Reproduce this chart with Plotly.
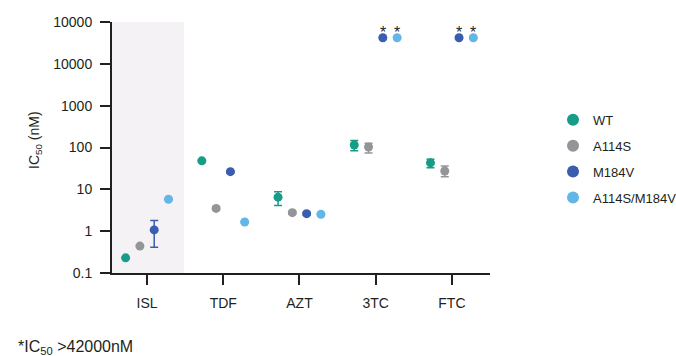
import math
import plotly.graph_objects as go

# Drugs on the x axis and the strains tested against each
drugs = ["ISL", "TDF", "AZT", "3TC", "FTC"]
strains = ["WT", "A114S", "M184V", "A114S/M184V"]
colors = ["#179c87", "#939598", "#3b5dae", "#63b6e6"]

# IC50 (nM) per strain, one value per drug
ic50 = {
    "WT":          [0.23, 48.0, 6.5, 115.0, 43.0],
    "A114S":       [0.44, 3.5, 2.77, 103.0, 27.5],
    "M184V":       [1.07, 26.5, 2.62, 42000.0, 42000.0],
    "A114S/M184V": [5.8, 1.66, 2.54, 42000.0, 42000.0],
}
# error bar ends (nM)
err_low = {
    "WT":          [0.23, 46.0, 4.1, 84.0, 33.0],
    "A114S":       [0.42, 3.2, 2.55, 74.0, 20.0],
    "M184V":       [0.41, 25.0, 2.40, 42000.0, 42000.0],
    "A114S/M184V": [5.6, 1.58, 2.50, 42000.0, 42000.0],
}
err_high = {
    "WT":          [0.23, 50.0, 8.8, 146.0, 52.5],
    "A114S":       [0.46, 3.8, 3.0, 126.0, 36.0],
    "M184V":       [1.80, 28.0, 2.85, 42000.0, 42000.0],
    "A114S/M184V": [6.0, 1.75, 2.58, 42000.0, 42000.0],
}
# values above the assay limit (IC50 > 42000 nM)
above_limit = {
    "WT":          [False] * 5,
    "A114S":       [False] * 5,
    "M184V":       [False, False, False, True, True],
    "A114S/M184V": [False, False, False, True, True],
}

y_tickvals = [0.1, 1, 10, 100, 1000, 10000, 100000]
y_ticktext = ["0.1", "1", "10", "100", "1000", "10000", "10000"]

FONT = "Liberation Sans, Arial, sans-serif"
INK = "#231f20"
SCATTER_GAP = 0.25

fig = go.Figure()
for name, col in zip(strains, colors):
    vals = ic50[name]
    plus = [h - v for h, v in zip(err_high[name], vals)]
    minus = [v - l for l, v in zip(err_low[name], vals)]
    fig.add_trace(go.Scatter(
        x=drugs, y=vals, name=name, mode="markers",
        marker=dict(color=col, size=9),
        error_y=dict(type="data", array=plus, arrayminus=minus,
                     color=col, thickness=1.5, width=4),
        offsetgroup=name, legendgroup=name,
        cliponaxis=False,
    ))

# asterisks over the values that exceed the assay limit
slot = (1 - SCATTER_GAP) / len(strains)
for k, name in enumerate(strains):
    for i, drug in enumerate(drugs):
        if above_limit[name][i]:
            fig.add_annotation(
                x=i + (k - (len(strains) - 1) / 2) * slot,
                y=math.log10(ic50[name][i]),
                xref="x", yref="y", text="*", showarrow=False,
                yanchor="middle", yshift=5,
                font=dict(family=FONT, size=16, color=INK))

# shaded band behind the ISL group
fig.add_shape(type="rect", xref="x", yref="paper",
              x0=-0.46, x1=0.486, y0=0, y1=1,
              fillcolor="#f4f2f4", line=dict(width=0), layer="below")

fig.update_layout(
    width=676, height=356,
    margin=dict(l=112, r=186, t=22, b=83, autoexpand=False),
    paper_bgcolor="white", plot_bgcolor="white",
    scattermode="group", scattergap=SCATTER_GAP,
    showlegend=True,
    legend=dict(x=1.1667, xanchor="left", y=0.67, yanchor="top",
                font=dict(family=FONT, size=13, color=INK),
                tracegroupgap=6, itemsizing="constant",
                bgcolor="rgba(0,0,0,0)"),
    font=dict(family=FONT, color=INK),
)
fig.update_xaxes(
    type="category", range=[-0.46, 4.5],
    showline=True, linewidth=2, linecolor=INK,
    ticks="outside", ticklen=10, tickwidth=2, tickcolor=INK,
    tickfont=dict(family=FONT, size=14, color=INK),
    ticklabelstandoff=6,
    showgrid=False, zeroline=False,
)
fig.update_yaxes(
    type="log", range=[-1, 5],
    tickvals=y_tickvals, ticktext=y_ticktext,
    showline=True, linewidth=2, linecolor=INK,
    ticks="outside", ticklen=10, tickwidth=2, tickcolor=INK,
    tickfont=dict(family=FONT, size=14, color=INK),
    ticklabelstandoff=5,
    showgrid=False, zeroline=False,
)

fig.add_annotation(text="IC<sub>50</sub> (nM)", textangle=-90,
                   xref="paper", yref="paper", x=-0.2037, y=0.53,
                   xanchor="center", yanchor="middle", showarrow=False,
                   font=dict(family=FONT, size=14, color=INK))
fig.add_annotation(text="*IC<sub>50</sub> >42000nM",
                   xref="paper", yref="paper", x=-0.254, y=-0.295,
                   xanchor="left", yanchor="middle", showarrow=False,
                   font=dict(family=FONT, size=16, color=INK))

fig.write_html("out.html")
